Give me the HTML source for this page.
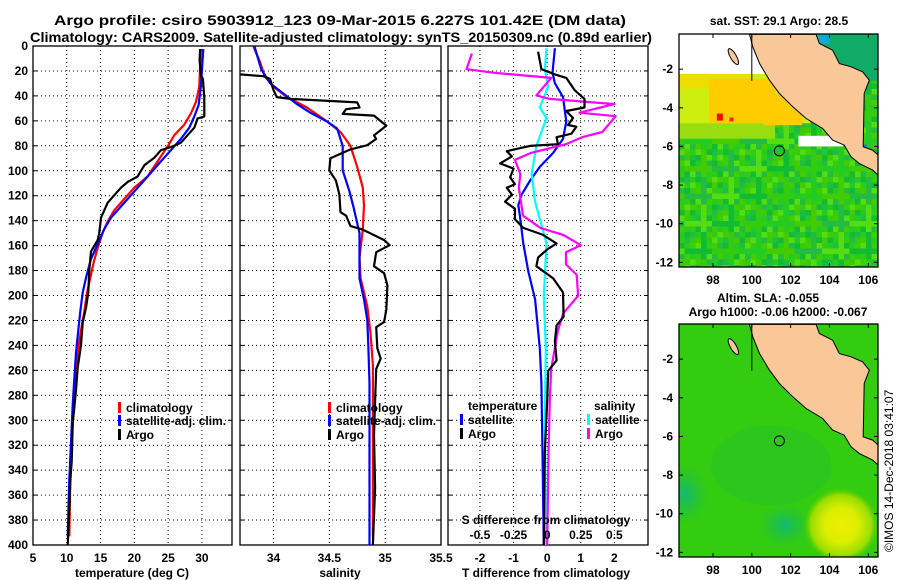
<!DOCTYPE html>
<html><head><meta charset="utf-8">
<style>
html,body{margin:0;padding:0;background:#fff;}
svg{display:block;font-family:"Liberation Sans",Arial,sans-serif;font-weight:bold;}
</style></head>
<body>
<svg id="fig" width="900" height="580" viewBox="0 0 900 580" xmlns="http://www.w3.org/2000/svg">
<defs>
<clipPath id="c1"><rect x="33" y="46" width="199" height="499"/></clipPath>
<clipPath id="c2"><rect x="240" y="46" width="201" height="499"/></clipPath>
<clipPath id="c3"><rect x="448" y="46" width="200" height="499"/></clipPath>
<clipPath id="cm1"><rect x="679" y="34" width="199" height="233"/></clipPath>
<clipPath id="cm2"><rect x="679" y="324" width="199" height="233"/></clipPath>
<radialGradient id="yb"><stop offset="0" stop-color="#eeee00"/><stop offset="0.45" stop-color="#ddee00"/><stop offset="0.8" stop-color="#99dd00"/><stop offset="1" stop-color="#44cc00" stop-opacity="0"/></radialGradient>
<radialGradient id="tb"><stop offset="0" stop-color="#11bb77"/><stop offset="1" stop-color="#22bb44" stop-opacity="0"/></radialGradient>
</defs>
<text x="340" y="25" font-size="14" text-anchor="middle" textLength="572" lengthAdjust="spacingAndGlyphs">Argo profile: csiro 5903912_123 09-Mar-2015 6.227S 101.42E (DM data)</text>
<text x="341" y="42" font-size="14" text-anchor="middle" textLength="622" lengthAdjust="spacingAndGlyphs">Climatology: CARS2009. Satellite-adjusted climatology: synTS_20150309.nc (0.89d earlier)</text>
<g id="g1"></g>
<g id="g2"></g>
<g id="g3"></g>
<g id="m1"></g>
<g id="m2"></g>
<text x="0" y="0" font-size="12" font-weight="normal" transform="translate(893,552) rotate(-90)">©IMOS 14-Dec-2018 03:41:07</text>
</svg>
<script>
// ---- Panel 1: temperature ----
const argoTDepth=[2.4,11.4,23.4,26.4,41.5,56.5,58,65.5,71.5,77.5,81,83.5,89.6,95.6,104.6,109,113.6,119.6,125.6,137.6,149.6,155.6,164.7,179.7,197.7,209.8,221.8,239.8,257.8,275.8,302.9,333,348,372,400];
const argoT=[29.75,29.65,29.85,30.15,30.35,30.35,29.36,28.87,27.88,26.89,25.41,23.93,22.95,21.47,20.48,19.0,18.02,17.03,16.05,15.06,14.81,14.57,13.58,13.33,13.19,12.84,12.35,12.1,11.61,11.36,10.87,10.72,10.52,10.37,10.13];
const climTDepth=[2.4,33,45,54,63,71.5,80.5,92.5,104.6,113.6,122.6,131.6,140.6,149.6,161.7,173.7,185.7,197.7,212.8,227.8,245.8,272.9,302.9,333,360,393];
const climT=[29.85,29.6,29.11,28.37,27.39,25.91,24.92,23.44,21.96,19.99,18.51,17.03,16.05,15.31,14.57,13.97,13.48,12.99,12.59,12.1,11.61,11.21,10.87,10.62,10.47,10.37];
const satTDepth=[2.4,32.4,47.4,56.5,65.5,74.5,83.5,92.5,101.6,110.6,119.6,128.6,137.6,146.6,158.7,170.7,185.7,197.7,212.8,227.8,245.8,266.8,287.8,317.9,348,393];
const satT=[30.2,29.85,29.5,28.87,28.13,26.89,25.41,23.93,22.46,20.98,19.5,18.02,16.54,15.55,14.57,13.58,12.84,12.35,12.0,11.71,11.36,11.11,10.87,10.62,10.37,10.13];
const tTicks=[5,10,15,20,25,30];
// ---- Panel 2: salinity ----
const argoSDepth=[18.6,22.8,24.2,26.4,35.4,41,42.4,43.8,45.2,49.3,50.7,54.4,55.8,63.9,71.7,74.5,79.5,82.9,89.9,99.7,108,119.2,133.2,136,144.4,147.2,155.6,159.7,165.3,176.5,182.1,191.9,211.4,221.2,225.4,242.2,250.6,259,284.1,312.1,354,400];
const argoS=[33.67,33.70,33.91,33.97,34.0,34.03,34.15,34.45,34.75,34.77,34.65,34.62,34.9,35.01,34.9,34.92,34.84,34.69,34.51,34.5,34.56,34.59,34.6,34.65,34.69,34.8,34.99,35.04,34.92,34.9,34.99,35.02,35.01,34.99,34.92,34.93,34.96,34.92,34.91,34.9,34.91,34.89];
const climSDepth=[0.4,13,24.2,32.6,41,49.3,60.5,68.9,80.1,96.9,113.6,127.6,147.2,169.5,186.3,208.7,231,256.2,284.1,326,393.1];
const climS=[33.82,33.88,33.92,34.0,34.12,34.3,34.48,34.6,34.69,34.75,34.8,34.81,34.8,34.77,34.78,34.84,34.87,34.89,34.89,34.89,34.89];
const satSDepth=[0.4,18.6,29.8,38.2,46.6,53.5,60.5,66.1,80.1,99.7,116.4,130.4,150,186.3,203.1,219.8,242.2,270.2,326,400];
const satS=[33.83,33.89,33.97,34.09,34.21,34.33,34.48,34.57,34.62,34.62,34.68,34.72,34.77,34.77,34.81,34.84,34.85,34.86,34.86,34.86];
const sTicks=[34,34.5,35,35.5];
// ---- Panel 3: differences ----
const dTArgoDepth=[4.6,18.6,22.8,25.6,35.4,42.4,49.3,52.1,57.7,63.3,64.7,70.3,73.1,78.7,80.1,84.3,88.5,94.1,98.3,105.2,110.8,113.6,119.2,124.8,130.4,138.8,145.8,151.4,158.3,162.5,169.5,176.5,186.3,197.5,217,224,236.6,252,260.4,284.1,326,400];
const dTArgo=[-0.27,-0.17,0.23,0.57,0.82,1.11,1.11,0.57,0.77,0.62,0.87,0.72,0.28,0.32,-0.51,-1.2,-1.05,-1.4,-1.0,-1.1,-0.96,-1.2,-1.05,-1.25,-0.96,-0.96,-0.71,-0.12,0.28,0.03,-0.27,-0.32,0.18,0.47,0.49,0.28,0.23,0.28,0.03,0,-0.07,-0.1];
const dTSatDepth=[1.8,21.4,29.8,41,60.5,74.5,85.7,96.9,108,119.2,127.6,136,158.3,180.7,203.1,242.2,270.2,326,400];
const dTSat=[0.23,0.16,0.23,0.47,0.57,0.47,0.18,-0.22,-0.51,-0.76,-0.86,-0.81,-0.71,-0.56,-0.36,-0.22,-0.17,-0.14,-0.1];
const dSArgoDepth=[6,18.6,21.4,25.6,39.6,42.4,46.6,53.5,56.3,68.9,73.1,78.7,85.7,91.3,102.5,113.6,136,145.8,151.4,159.7,165.3,175.1,183.5,200.3,214.2,228.2,259,284.1,326,400];
const dSArgo=[-0.56,-0.6,-0.4,0.03,-0.08,0.02,0.5,0.24,0.51,0.41,0.26,0.14,-0.12,-0.24,-0.2,-0.21,-0.18,-0.05,0.12,0.25,0.14,0.14,0.22,0.23,0.12,0.08,0.03,0.02,0.01,0];
const dSSatDepth=[1.8,18.6,32.6,49.3,57.7,80.1,102.5,124.8,158.3,200.3,242.2,298.1,400];
const dSSat=[-0.005,-0.017,0.007,-0.054,-0.005,-0.08,-0.116,-0.09,-0.005,-0.025,-0.01,-0.017,-0.01];
const dTTicks=[-2,-1,0,1,2];
const dSTicks=[-0.5,-0.25,0,0.25,0.5];
const dSTickLabels=["-0.5","-0.25","0","0.25","0.5"];
const depthTicks=[0,20,40,60,80,100,120,140,160,180,200,220,240,260,280,300,320,340,360,380,400];
// ---- Maps ----
const lonTicks=[98,100,102,104,106];
const latTicks=[-2,-4,-6,-8,-10,-12];
const landLon=[99.88,103.31,103.48,104.16,104.51,105.11,105.71,106.05,105.79,105.74,106.22,106.6,106.6,106.22,105.53,105.11,104.76,104.16,103.65,102.79,102.11,101.42,100.91,100.4,100.05];
const landLat=[-0.2,-0.2,-0.67,-1.02,-1.71,-1.88,-2.14,-2.57,-3.26,-6.02,-6.19,-6.53,-7.57,-7.22,-6.88,-6.53,-5.93,-5.67,-5.07,-4.55,-3.95,-3.26,-2.57,-1.71,-0.84];
const argoLon=101.42, argoLat=-6.227;
const sstLabel="sat. SST: 29.1 Argo: 28.5";
const slaLabel1="Altim. SLA: -0.055";
const slaLabel2="Argo h1000: -0.06 h2000: -0.067";

const NS="http://www.w3.org/2000/svg";
function mk(tag,attrs,parent){const e=document.createElementNS(NS,tag);for(const k in attrs)e.setAttribute(k,attrs[k]);parent.appendChild(e);return e;}
const Y0=46,Y1=545;
const yD=d=>Y0+(d/400)*(Y1-Y0);
function lin(d0,d1,p0,p1){return v=>p0+(v-d0)/(d1-d0)*(p1-p0);}
const x1=lin(5,34.45,33,232), x2=lin(33.7,35.5,240,441), x3=lin(-2.95,3.0,448,648), x3s=v=>x3(v*4);

function pathOf(xs,ds,fx){return xs.map((v,i)=>(i?'L':'M')+fx(v).toFixed(1)+','+yD(ds[i]).toFixed(1)).join(' ');}

function panel(g,xl,xr,xf,ticks,tickLabels,clip,leftLabels){
  for(const d of depthTicks){ if(d>0&&d<400){const l=mk('line',{x1:xl,x2:xr,y1:yD(d),y2:yD(d),stroke:'#000','stroke-width':1,'stroke-dasharray':'1,3'},g);}
    if(leftLabels){const t=mk('text',{x:28,y:yD(d)+4,'font-size':12,'text-anchor':'end'},g);t.textContent=d;}
    mk('line',{x1:xl,x2:xl+4,y1:yD(d),y2:yD(d),stroke:'#000'},g);mk('line',{x1:xr,x2:xr-4,y1:yD(d),y2:yD(d),stroke:'#000'},g);}
  ticks.forEach((v,i)=>{const x=xf(v);
    if(x>xl+2&&x<xr-2){const l=mk('line',{x1:x,x2:x,y1:Y0,y2:Y1,stroke:'#000','stroke-dasharray':'1,3'},g);}
    const t=mk('text',{x:x,y:562,'font-size':12,'text-anchor':'middle'},g);t.textContent=tickLabels[i];});
  const f=mk('rect',{x:xl,y:Y0,width:xr-xl,height:Y1-Y0,fill:'none',stroke:'#000','stroke-width':1.3},g);
}
function line(g,xs,ds,fx,color,clip,name){const p=mk('path',{d:pathOf(xs,ds,fx),fill:'none',stroke:color,'stroke-width':2.2,'clip-path':'url(#'+clip+')','stroke-linejoin':'round'},g);}
function txt(g,x,y,s,name,size,anchor){const t=mk('text',{x:x,y:y,'font-size':size||12,'text-anchor':anchor||'start'},g);t.textContent=s;return t;}
function legend(g,x,y,color,label,name){const r=mk('rect',{x:x,y:y-10,width:3,height:11,fill:color},g);txt(g,x+8,y,label,name);}

const g1=document.getElementById('g1'),g2=document.getElementById('g2'),g3=document.getElementById('g3');
panel(g1,33,232,x1,tTicks,tTicks.map(String),'c1',true);
line(g1,climT,climTDepth,x1,'#ff0000','c1','climatology-temp-line');
line(g1,satT,satTDepth,x1,'#0000ff','c1','satellite-temp-line');
line(g1,argoT,argoTDepth,x1,'#000','c1','argo-temp-line');
txt(g1,132,577,'temperature (deg C)','x-axis-title-temperature',12,'middle');
legend(g1,118,412,'#ff0000','climatology','legend-climatology');
legend(g1,118,425,'#0000ff','satellite-adj. clim.','legend-satellite');
legend(g1,118,439,'#000','Argo','legend-argo');

panel(g2,240,441,x2,sTicks,sTicks.map(String),'c2',false);
line(g2,climS,climSDepth,x2,'#ff0000','c2','climatology-sal-line');
line(g2,satS,satSDepth,x2,'#0000ff','c2','satellite-sal-line');
line(g2,argoS,argoSDepth,x2,'#000','c2','argo-sal-line');
txt(g2,340,577,'salinity','x-axis-title-salinity',12,'middle');
legend(g2,328,412,'#ff0000','climatology','legend-climatology-2');
legend(g2,328,425,'#0000ff','satellite-adj. clim.','legend-satellite-2');
legend(g2,328,439,'#000','Argo','legend-argo-2');

panel(g3,448,648,x3,dTTicks,dTTicks.map(String),'c3',false);
line(g3,dTSat,dTSatDepth,x3,'#0000ff','c3','satellite-tdiff-line');
line(g3,dSSat,dSSatDepth,x3s,'#00ffff','c3','satellite-sdiff-line');
line(g3,dSArgo,dSArgoDepth,x3s,'#ff00ff','c3','argo-sdiff-line');
line(g3,dTArgo,dTArgoDepth,x3,'#000','c3','argo-tdiff-line');
txt(g3,546,577,'T difference from climatology','x-axis-title-tdiff',12,'middle');
txt(g3,546,524,'S difference from climatology','s-axis-title',12,'middle');
dSTicks.forEach((v,i)=>txt(g3,x3s(v),539,dSTickLabels[i],'s-tick-label',12,'middle'));
txt(g3,468,410,'temperature','legend-temperature-heading');
txt(g3,594,410,'salinity','legend-salinity-heading');
legend(g3,460,424,'#0000ff','satellite','legend-t-satellite');
legend(g3,460,438,'#000','Argo','legend-t-argo');
legend(g3,587,424,'#00ffff','satellite','legend-s-satellite');
legend(g3,587,438,'#ff00ff','Argo','legend-s-argo');

// maps
function map(id,top,clip,sst){
  const g=document.getElementById(id);
  const L=679,R=878,B=top+233;
  const mx=lin(96.25,106.5,L,R), my=lin(-0.18,-12.24,top,B);
  const cg=mk('g',{'clip-path':'url(#'+clip+')'},g);
  mk('rect',{x:L,y:top,width:R-L,height:B-top,fill:sst?'#22cc22':'#33cc11'},cg);
  if(sst){
    const pal=['#22cc22','#33cc11','#11bb33','#55dd11','#22bb44','#44cc00'];
    for(let i=0;i<36;i++)for(let j=0;j<43;j++){const k=(i*7+j*13+(i*j)%5)%6;mk('rect',{x:L+i*5.5,y:top+j*5.5,width:5.6,height:5.6,fill:pal[k]},cg);}
    mk('rect',{x:L,y:my(-4.6),width:mx(101.2)-L,height:my(-5.6)-my(-4.6),fill:'#99dd11'},cg);
    mk('rect',{x:L,y:my(-2.25),width:mx(103)-L,height:my(-4.8)-my(-2.25),fill:'#ccee11'},cg);
    mk('rect',{x:L,y:my(-2.25),width:mx(100)-L,height:my(-3.0)-my(-2.25),fill:'#eedd00'},cg);
    mk('rect',{x:mx(97.8),y:my(-2.5),width:mx(101.2)-mx(97.8),height:my(-4.8)-my(-2.5),fill:'#ffcc00'},cg);
    mk('rect',{x:mx(100.6),y:my(-3.3),width:mx(102.6)-mx(100.6),height:my(-4.9)-my(-3.3),fill:'#ffcc00'},cg);
    mk('rect',{x:mx(98.2),y:my(-4.3),width:6,height:7,fill:'#ff0000'},cg);
    mk('rect',{x:mx(98.85),y:my(-4.5),width:4,height:4,fill:'#ff2200'},cg);
    mk('rect',{x:L,y:top,width:mx(101.6)-L,height:my(-2.25)-top,fill:'#fff'},cg);
    mk('rect',{x:mx(102.4),y:my(-5.45),width:mx(104.7)-mx(102.4),height:my(-6)-my(-5.45),fill:'#fff'},cg);
    mk('rect',{x:mx(103.4),y:top,width:R-mx(103.4),height:my(-2.6)-top,fill:'#11aa66'},cg);
    mk('rect',{x:mx(103.4),y:top,width:12,height:10,fill:'#11aacc'},cg);
    mk('rect',{x:mx(105.5),y:my(-5.9),width:8,height:10,fill:'#1177ee'},cg);
  } else {
    mk('ellipse',{cx:mx(96.6),cy:my(-9),rx:22,ry:30,fill:'url(#tb)'},cg);
    mk('ellipse',{cx:mx(101.7),cy:my(-10.6),rx:26,ry:22,fill:'url(#tb)'},cg);
    mk('ellipse',{cx:mx(101),cy:my(-7.5),rx:60,ry:40,fill:'#22bb33',opacity:0.35},cg);
    mk('circle',{cx:mx(104.6),cy:my(-10.6),r:38,fill:'url(#yb)'},cg);
  }
  const pts=landLon.map((v,i)=>mx(v).toFixed(1)+','+my(landLat[i]).toFixed(1)).join(' ');
  const land=mk('polygon',{points:pts,fill:'#fac898',stroke:'#000','stroke-width':1},cg);
  
  
  mk('ellipse',{cx:mx(99.05),cy:my(-1.35),rx:3,ry:9,fill:'#fac898',stroke:'#000',transform:'rotate(-30 '+mx(99.05)+' '+my(-1.35)+')'},cg);
  mk('line',{x1:mx(100),y1:top,x2:mx(100),y2:my(-2.6),stroke:'#000'},cg);
  const c=mk('circle',{cx:mx(argoLon),cy:my(argoLat),r:5,fill:'none',stroke:'#000','stroke-width':1},g);
  
  
  mk('rect',{x:L,y:top,width:R-L,height:B-top,fill:'none',stroke:'#000','stroke-width':1.3},g);
  latTicks.forEach(v=>{const y=my(v);mk('line',{x1:L,x2:L+4,y1:y,y2:y,stroke:'#000'},g);mk('line',{x1:R,x2:R-4,y1:y,y2:y,stroke:'#000'},g);txt(g,673,y+4,String(v),'lat-tick-label',12,'end');});
  lonTicks.forEach(v=>{const x=mx(v);mk('line',{x1:x,x2:x,y1:B,y2:B-4,stroke:'#000'},g);mk('line',{x1:x,x2:x,y1:top,y2:top+4,stroke:'#000'},g);txt(g,x,B+17,String(v),'lon-tick-label',12,'middle');});
}
map('m1',34,'cm1',true);
map('m2',324,'cm2',false);
txt(document.getElementById('m1'),779,25,sstLabel,'sst-map-title',12,'middle');
txt(document.getElementById('m2'),768,302,slaLabel1,'sla-map-title',12,'middle');
txt(document.getElementById('m2'),778,316,slaLabel2,'sla-map-subtitle',12,'middle');
</script>
</body></html>
